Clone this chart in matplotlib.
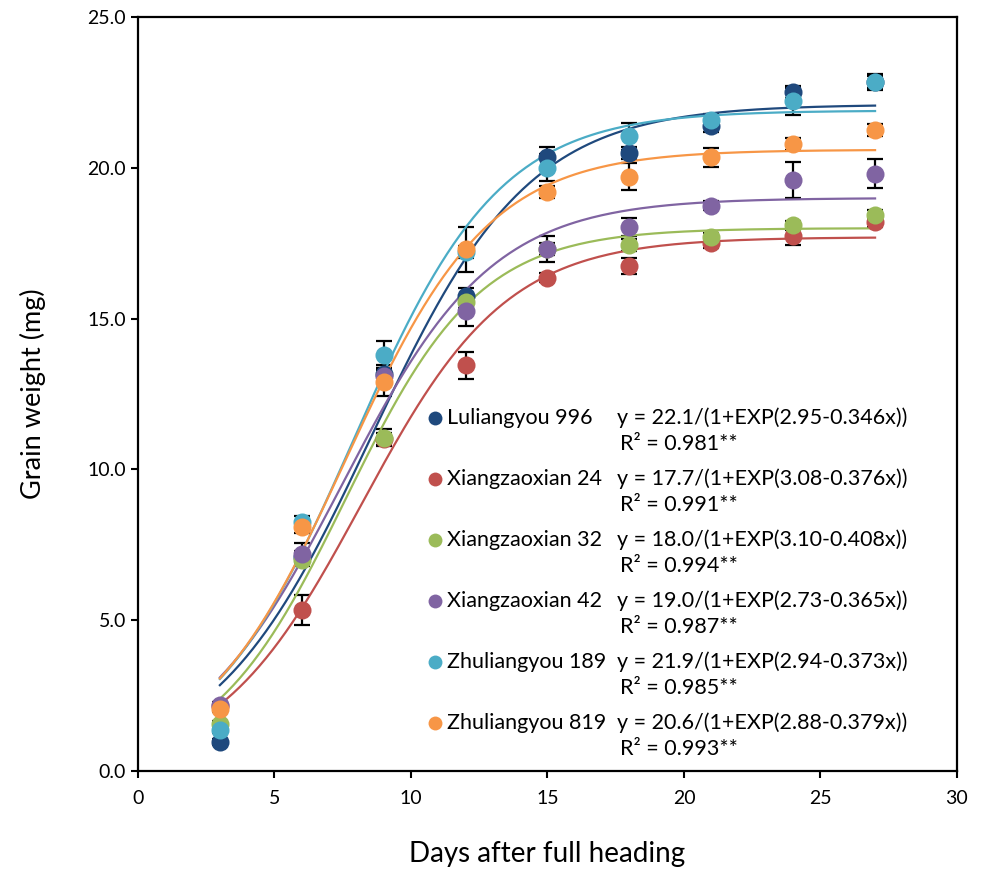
import numpy as np
import matplotlib
matplotlib.use("Agg")
import matplotlib.pyplot as plt

plt.rcParams["font.family"] = ["Lato", "DejaVu Sans"]

days = [3, 6, 9, 12, 15, 18, 21, 24, 27]

varieties = [
    "Luliangyou 996",
    "Xiangzaoxian 24",
    "Xiangzaoxian 32",
    "Xiangzaoxian 42",
    "Zhuliangyou 189",
    "Zhuliangyou 819",
]

colors = ["#1F497D", "#C0504D", "#9BBB59", "#8064A2", "#4BACC6", "#F79646"]

# mean grain weight (mg)
weight = [
    [0.95, 7.1, 13.15, 15.75, 20.35, 20.5, 21.4, 22.5, 22.85],
    [2.15, 5.35, 11.0, 13.45, 16.35, 16.75, 17.5, 17.75, 18.2],
    [1.55, 7.0, 11.05, 15.55, 17.3, 17.45, 17.7, 18.1, 18.45],
    [2.2, 7.2, 13.1, 15.25, 17.3, 18.05, 18.75, 19.6, 19.8],
    [1.35, 8.25, 13.8, 17.2, 20.0, 21.05, 21.6, 22.2, 22.85],
    [2.05, 8.1, 12.9, 17.3, 19.2, 19.7, 20.35, 20.8, 21.25],
]

# standard errors
err = [
    [0.1, 0.2, 0.3, 0.25, 0.35, 0.2, 0.2, 0.2, 0.2],
    [0.1, 0.5, 0.2, 0.45, 0.15, 0.27, 0.15, 0.3, 0.15],
    [0.1, 0.2, 0.28, 0.2, 0.2, 0.2, 0.15, 0.15, 0.15],
    [0.1, 0.35, 0.2, 0.5, 0.43, 0.3, 0.15, 0.6, 0.48],
    [0.1, 0.2, 0.45, 0.2, 0.45, 0.45, 0.2, 0.45, 0.27],
    [0.1, 0.2, 0.45, 0.75, 0.2, 0.45, 0.32, 0.2, 0.2],
]

# logistic fit y = a/(1+exp(b-c*x))
fit_a = [22.1, 17.7, 18.0, 19.0, 21.9, 20.6]
fit_b = [2.95, 3.08, 3.10, 2.73, 2.94, 2.88]
fit_c = [0.346, 0.376, 0.408, 0.365, 0.373, 0.379]
r2 = ["0.981", "0.991", "0.994", "0.987", "0.985", "0.993"]

fig = plt.figure(figsize=(9.82, 8.69), dpi=100)
ax = fig.add_axes([0.1405, 0.1128, 0.834, 0.8676])

xs = np.linspace(3, 27, 200)
for i in range(len(varieties)):
    ax.errorbar(days, weight[i], yerr=err[i], fmt="none", ecolor="black",
                elinewidth=1.6, capsize=6, capthick=1.6, zorder=2)
    ax.plot(xs, fit_a[i] / (1 + np.exp(fit_b[i] - fit_c[i] * xs)),
            color=colors[i], lw=1.6, zorder=3)
for i in range(len(varieties)):
    ax.plot(days, weight[i], "o", color=colors[i], ms=13, mec="none", zorder=4)

ax.set_xlim(0, 30)
ax.set_ylim(0, 25)
ax.set_xticks(range(0, 31, 5))
ax.set_yticks(np.arange(0, 25.1, 5))
ax.set_yticklabels([f"{v:.1f}" for v in np.arange(0, 25.1, 5)])
ax.tick_params(direction="out", length=5, width=1.5, labelsize=14)
ax.tick_params(axis="x", pad=9)
for s in ax.spines.values():
    s.set_linewidth(1.6)

ax.set_xlabel("Days after full heading", fontsize=20, labelpad=24)
ax.set_ylabel("Grain weight (mg)", fontsize=19.5, labelpad=30)

# legend with fitted equations
y0 = 0.468
step = 0.0809
for i in range(len(varieties)):
    y = y0 - i * step
    ax.plot([0.3626], [y], "o", color=colors[i], ms=10, mec="none",
            transform=ax.transAxes, clip_on=False)
    ax.text(0.3775, y, varieties[i], transform=ax.transAxes,
            fontsize=15.5, va="center", ha="left")
    eq = f"y = {fit_a[i]:.1f}/(1+EXP({fit_b[i]:.2f}-{fit_c[i]:.3f}x))"
    ax.text(0.585, y, eq, transform=ax.transAxes,
            fontsize=15.5, va="center", ha="left")
    ax.text(0.588, y - 0.0345, f"R² = {r2[i]}**", transform=ax.transAxes,
            fontsize=15.5, va="center", ha="left")

fig.savefig("out.png", dpi=100)
